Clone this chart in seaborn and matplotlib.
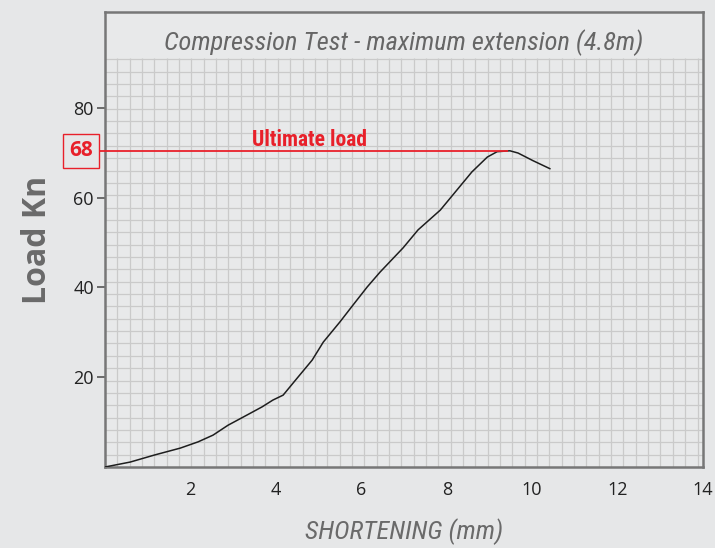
import numpy as np
import pandas as pd
import matplotlib
matplotlib.use("Agg")
import matplotlib.pyplot as plt
import seaborn as sns

# shortening (mm) vs load (kN)
shortening = [0.00, 0.59, 1.17, 1.76, 2.18, 2.53, 2.88, 3.33, 3.68, 3.93, 4.17,
              4.50, 4.85, 5.11, 5.50, 5.81, 6.14, 6.44, 6.67, 6.98, 7.33, 7.85,
              8.59, 8.95, 9.18, 9.48, 9.67, 10.02, 10.42]
load = [0.0, 1.1, 2.7, 4.2, 5.6, 7.1, 9.3, 11.6, 13.4, 14.9, 16.0,
        19.8, 23.8, 27.8, 32.3, 36.1, 40.1, 43.4, 45.7, 48.8, 52.8, 57.2,
        65.7, 69.0, 70.2, 70.4, 69.9, 68.2, 66.4]
x_ticks = [2, 4, 6, 8, 10, 12, 14]
y_ticks = [20, 40, 60, 80]
ultimate_label = "68"
title = "Compression Test - maximum extension (4.8m)"

df = pd.DataFrame({"Shortening": shortening, "Load": load})

sns.set_theme(style="white")
narrow = ["Roboto Condensed", "Roboto", "DejaVu Sans"]
plt.rcParams["font.family"] = ["Open Sans", "DejaVu Sans"]

bg = "#e6e7e8"
red = "#e8202a"
fig = plt.figure(figsize=(7.15, 5.48), dpi=100, facecolor=bg)
ax = fig.add_axes([105 / 715, 1 - 467 / 548, 598 / 715, 455 / 548])
ax.set_facecolor("#e8e9ea")

xmax, ymax = 14, 101.3
grid_top = 91.1
ax.set_xlim(0, xmax)
ax.set_ylim(0, ymax)

# graph-paper grid, stopping below the title band
ax.vlines(np.arange(0.289, xmax, 0.289), 0, grid_top, color="#cacaca", lw=0.9, zorder=0)
ax.hlines(np.arange(2.75, grid_top + 0.1, 2.75), 0, xmax, color="#cacaca", lw=0.9, zorder=0)

g = sns.lineplot(data=df, x="Shortening", y="Load", ax=ax, color="#1e1e1e",
                 lw=1.1, estimator=None, sort=False, zorder=3)

# ultimate load marker
peak = max(load)
peak_x = shortening[load.index(peak)]
ax.hlines(peak, -0.15, peak_x - 0.05, color=red, lw=1.3, clip_on=False, zorder=4)
ax.text(4.78, peak + 2.4, "Ultimate load", color=red, fontsize=15.5, fontweight="bold",
        family=narrow, ha="center", va="center")
ax.text(-0.56, peak, ultimate_label, color=red, fontsize=15, fontweight="bold",
        ha="center", va="center", clip_on=False,
        bbox=dict(boxstyle="square,pad=0.3", fc="none", ec=red, lw=1.0))

ax.text(xmax / 2, 94.4, title, color="#666666", fontsize=19, style="italic",
        family=narrow, ha="center", va="center")

ax.set_xticks(x_ticks)
ax.set_yticks(y_ticks)
ax.tick_params(axis="x", length=0, pad=10, labelsize=13, labelcolor="#222222")
ax.tick_params(axis="y", length=6, width=1.2, color="#555555", pad=2,
               labelsize=13, labelcolor="#222222", left=True)
g.set_xlabel("SHORTENING (mm)", fontsize=19, style="italic", color="#6a6a6a",
             family=narrow, labelpad=14)
g.set_ylabel("Load Kn", fontsize=23, fontweight="bold", color="#6a6a6a", labelpad=14)

for s in ax.spines.values():
    s.set_color("#777777")
    s.set_linewidth(1.8)

fig.savefig("out.png", dpi=100, facecolor=bg)
